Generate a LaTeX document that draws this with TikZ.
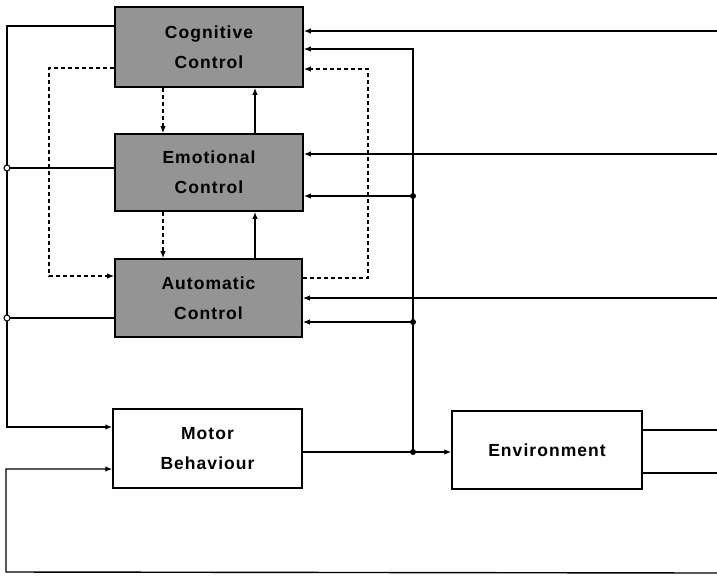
\documentclass[tikz,border=0pt]{standalone}
\usepackage{fontspec}
\setmainfont{Liberation Sans}[LetterSpace=6]
\usetikzlibrary{arrows.meta}
\begin{document}
\begin{tikzpicture}[x=1pt,y=-1pt,
  every path/.style={line width=1.4pt},
  arr/.style={-{Latex[length=7pt,width=5.5pt]}},
  dsh/.style={dash pattern=on 4pt off 3pt},
  graybox/.style={draw, line width=1.6pt, fill=black!42, font=\fontsize{17.5}{30}\selectfont\bfseries, align=center, inner sep=0pt},
  whitebox/.style={draw, line width=1.4pt, fill=white, font=\fontsize{17.5}{30}\selectfont\bfseries, align=center, inner sep=0pt},
  jdot/.style={circle, fill=black, inner sep=0pt, minimum size=6pt},
  jopen/.style={circle, draw, fill=white, line width=1pt, inner sep=0pt, minimum size=6pt}]
\useasboundingbox (0,0) rectangle (717,576);

% boxes
\node[graybox, minimum width=188pt, minimum height=80pt] (cog) at (209,47) {Cognitive\\Control};
\node[graybox, minimum width=188pt, minimum height=77pt] (emo) at (209,172.5) {Emotional\\Control};
\node[graybox, minimum width=187pt, minimum height=78pt] (aut) at (208.5,298) {Automatic\\Control};
\node[whitebox, minimum width=189pt, minimum height=79pt] (mot) at (207.5,448.5) {Motor\\Behaviour};
\node[whitebox, minimum width=190pt, minimum height=78pt] (env) at (547,450) {Environment};

% coordinates
\coordinate (c1) at (7,26);
\coordinate (m1) at (7,427);
\coordinate (oe) at (7,168);
\coordinate (oa) at (7,318);
\coordinate (dl1) at (49,68);
\coordinate (dl2) at (49,276);
\coordinate (dx) at (163,0);
\coordinate (sx) at (255,0);
\coordinate (b1) at (413,49);
\coordinate (be) at (413,196);
\coordinate (ba) at (413,322);
\coordinate (bm) at (413,452);
\coordinate (dr1) at (368,69);
\coordinate (dr2) at (368,278);
\coordinate (rc) at (717,31);
\coordinate (re) at (717,154);
\coordinate (ra) at (717,298);
\coordinate (eo1) at (717,430);
\coordinate (eo2) at (717,473);
\coordinate (bR) at (717,573);
\coordinate (bL) at (6,572);
\coordinate (bL2) at (6,469);

% left solid feedback
\draw[arr] (cog.west |- c1) -- (c1) -- (m1) -- (mot.west |- m1);
\draw (emo.west |- oe) -- (oe);
\draw (aut.west |- oa) -- (oa);
\node[jopen] (joe) at (oe) {};
\node[jopen] (joa) at (oa) {};

% left dashed
\draw[arr, dsh] (cog.west |- dl1) -- (dl1) -- (dl2) -- (aut.west |- dl2);

% between boxes
\draw[arr, dsh] (cog.south -| dx) -- (emo.north -| dx);
\draw[arr, dsh] (emo.south -| dx) -- (aut.north -| dx);
\draw[arr] (emo.north -| sx) -- (cog.south -| sx);
\draw[arr] (aut.north -| sx) -- (emo.south -| sx);

% right dashed
\draw[arr, dsh] (aut.east |- dr2) -- (dr2) -- (dr1) -- (cog.east |- dr1);

% right inputs
\draw[arr] (rc) -- (cog.east |- rc);
\draw[arr] (re) -- (emo.east |- re);
\draw[arr] (ra) -- (aut.east |- ra);

% bus
\draw[arr] (bm) -- (b1) -- (cog.east |- b1);
\draw[arr] (be) -- (emo.east |- be);
\draw[arr] (ba) -- (aut.east |- ba);
\draw[arr] (mot.east |- bm) -- (env.west |- bm);
\node[jdot] (dbe) at (be) {};
\node[jdot] (dba) at (ba) {};
\node[jdot] (dbm) at (bm) {};

% environment outputs
\draw (env.east |- eo1) -- (eo1);
\draw (env.east |- eo2) -- (eo2);

% bottom feedback
\draw[arr] (bR) -- (bL) -- (bL2) -- (mot.west |- bL2);
\end{tikzpicture}
\end{document}
